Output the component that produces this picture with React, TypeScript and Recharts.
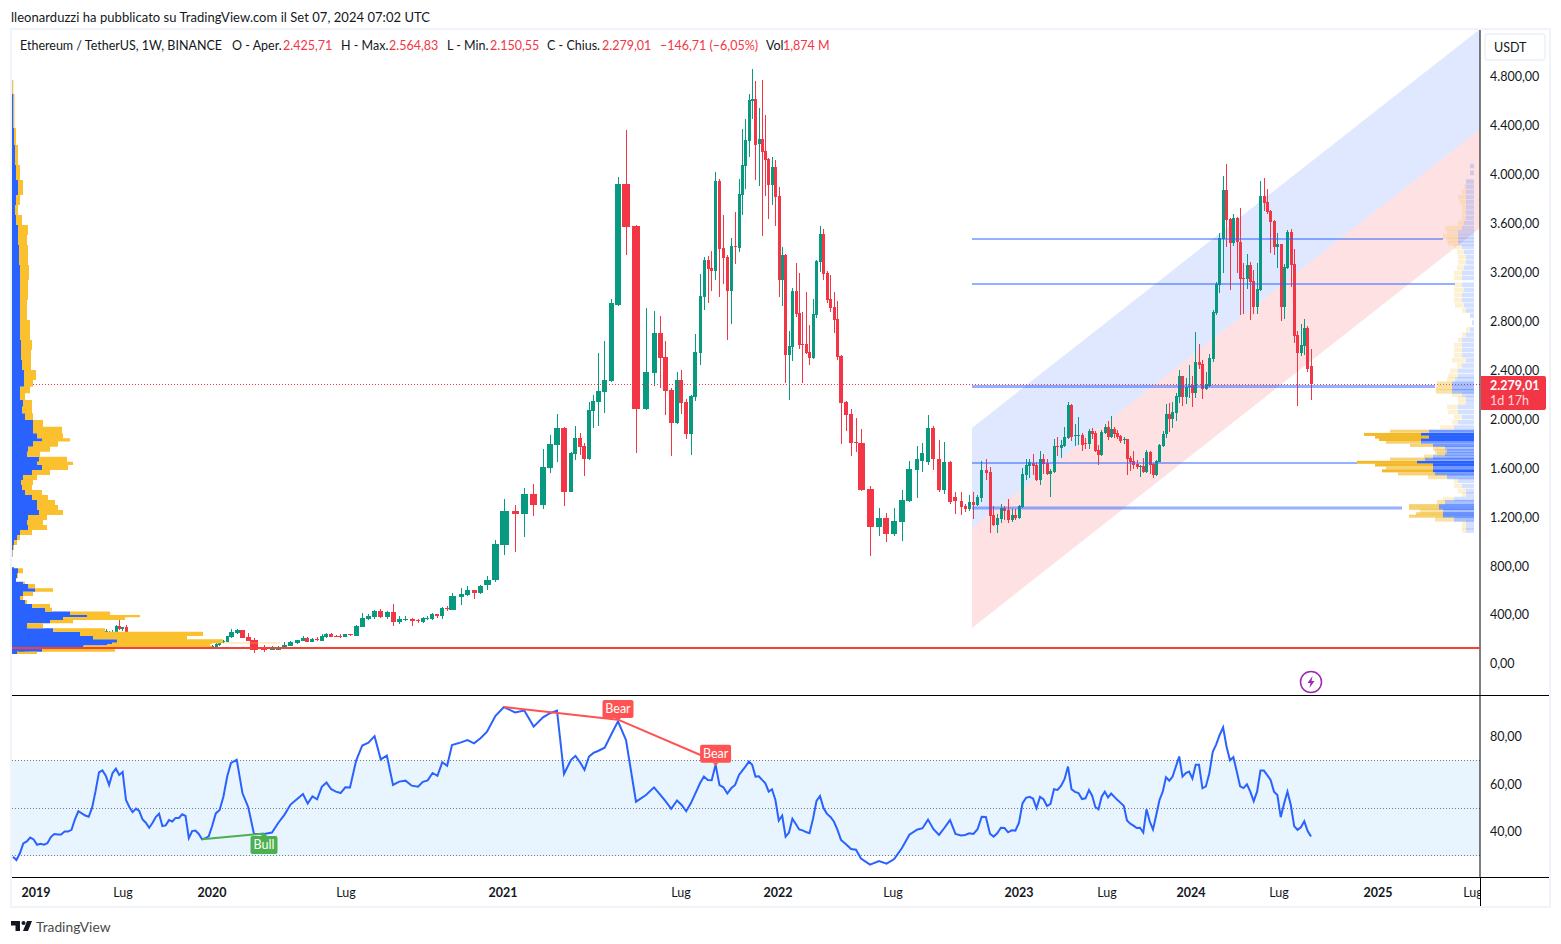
import { Area, Bar, ComposedChart, Line, ReferenceArea, ReferenceDot, ReferenceLine, XAxis, YAxis } from "recharts"

// weekly candles, Nov 2018 to Sep 2024
const opens = [
  140, 118, 100, 90, 94, 110, 135, 150, 137, 125,
  120, 108, 122, 155, 140, 145, 137, 135, 138, 143,
  142, 175, 165, 178, 162, 215,
  237, 250, 256, 237, 256, 302, 278, 294,
  237, 215, 212, 220, 215, 210, 185, 175, 180, 177,
  172, 180, 210, 168, 175, 180, 185, 183, 178, 150,
  147, 148, 132, 125, 127,
  125, 128, 147, 169, 171, 212, 245, 269, 212, 188,
  120, 106, 106, 122, 139, 163, 180, 204, 171, 196,
  180, 212, 237, 223, 223, 212, 237, 220, 294, 359,
  376, 425, 376, 417, 335, 351, 359, 351, 335, 357,
  359, 400, 384, 449, 433, 539, 556, 596, 572, 635,
  680, 965, 1243, 1219, 1382, 1292, 1595, 1783, 1922, 1399,
  1709, 1840, 1775, 1668, 2061, 2134, 2216, 2306, 2928, 3917,
  3574, 2077, 2372, 2699, 2502, 2233, 1963, 2314, 2134, 1873,
  2175, 2535, 2993, 3296, 3230, 3206, 3942, 3394, 3320, 3042,
  3410, 3394, 3827, 4064, 4269, 4598, 4612, 4244, 4285, 4187,
  4121, 3909, 4056, 3819, 3132, 3336, 2519, 2584, 3042, 2862,
  2609, 2609, 2543, 2494, 2846, 3279, 3508, 3189, 2977, 2911,
  2813, 2510, 2134, 2036, 1807, 1799, 1423, 1112, 1186, 1055,
  1153, 1325, 1578, 1650, 1644, 1922, 1668, 1415, 1640, 1360,
  1325, 1284, 1259, 1317, 1292, 1349, 1578, 1562, 1210, 1129,
  1178, 1268, 1251, 1170, 1210, 1186, 1276, 1537, 1611, 1636,
  1619, 1497, 1668, 1636, 1546, 1562, 1775, 1758, 1775, 1840,
  2110, 1856, 1856, 1864, 1796, 1791, 1897, 1881, 1742, 1701,
  1881, 1930, 1848, 1914, 1881, 1856, 1824, 1832, 1676, 1652,
  1627, 1603, 1611, 1562, 1725, 1627, 1537, 1644, 1775, 1873,
  2036, 1995, 2044, 2175, 2347, 2175, 2257, 2273, 2208, 2461,
  2445, 2241, 2265, 2486, 2862, 3091, 3467, 3868, 3631, 3435,
  3639, 3443, 3148, 3140, 3255, 3124, 2911, 3050, 3819, 3770,
  3696, 3614, 3405, 3426, 2911, 3230, 3524, 3263, 2682, 2535,
  2592, 2740, 2425.71,
]

const highs = [
  155, 125, 108, 105, 115, 160, 150, 160, 140, 128,
  125, 128, 168, 160, 150, 145, 140, 145, 148, 150,
  185, 185, 185, 190, 185, 270,
  262, 278, 262, 270, 311, 357, 297, 311,
  240, 235, 232, 228, 225, 215, 195, 195, 190, 190,
  185, 215, 225, 185, 190, 190, 195, 188, 180, 155,
  155, 150, 135, 135, 145,
  145, 160, 165, 188, 222, 278, 278, 272, 245, 204,
  147, 139, 139, 169, 180, 190, 220, 212, 204, 212,
  237, 245, 245, 228, 237, 240, 240, 310, 408, 400,
  433, 441, 425, 482, 384, 384, 367, 359, 372, 384,
  408, 404, 457, 466, 572, 613, 629, 600, 640, 712,
  1006, 1341, 1292, 1431, 1464, 1750, 1865, 2036, 1930, 1725,
  1938, 1881, 1799, 2134, 2192, 2532, 2633, 2977, 3974, 4359,
  3580, 2903, 2879, 2838, 2633, 2249, 2380, 2396, 2159, 2192,
  2690, 3181, 3320, 3328, 3369, 4015, 3958, 3664, 3336, 3475,
  3688, 3958, 4367, 4449, 4653, 4857, 4759, 4538, 4767, 4481,
  4130, 4138, 4113, 3892, 3402, 3345, 2715, 3067, 3271, 3189,
  2870, 3034, 2764, 2977, 3295, 3574, 3549, 3206, 3173, 3034,
  2960, 2519, 2140, 2077, 2004, 1914, 1448, 1268, 1227, 1268,
  1415, 1652, 1775, 1800, 2030, 1940, 1820, 1810, 1650, 1400,
  1396, 1300, 1374, 1401, 1374, 1652, 1668, 1603, 1284, 1219,
  1300, 1284, 1341, 1259, 1259, 1290, 1595, 1668, 1668, 1709,
  1644, 1734, 1709, 1668, 1587, 1832, 1848, 1824, 1933, 2134,
  2118, 1954, 2014, 1878, 1837, 1914, 1922, 1897, 1783, 1905,
  1954, 1979, 2020, 1933, 1905, 1864, 1851, 1835, 1693, 1734,
  1660, 1615, 1674, 1742, 1734, 1633, 1660, 1790, 1897, 2118,
  2123, 2132, 2205, 2396, 2350, 2331, 2437, 2347, 2707, 2609,
  2478, 2380, 2527, 2887, 3116, 3516, 3982, 4080, 3639, 3672,
  3645, 3721, 3268, 3345, 3279, 3214, 3268, 3942, 3966, 3876,
  3704, 3623, 3514, 3430, 3263, 3541, 3549, 3385, 2712, 2772,
  2813, 2756, 2564.83,
]

const lows = [
  110, 84, 82, 85, 88, 105, 128, 125, 120, 115,
  102, 104, 120, 130, 130, 125, 130, 125, 130, 133,
  140, 155, 160, 160, 155, 200,
  225, 240, 230, 230, 250, 270, 265, 232,
  190, 205, 195, 205, 205, 165, 170, 165, 170, 160,
  165, 175, 165, 160, 165, 165, 180, 175, 130, 135,
  140, 130, 118, 122, 125,
  120, 125, 140, 165, 168, 207, 240, 205, 178, 81,
  90, 104, 104, 120, 137, 155, 178, 168, 168, 180,
  178, 208, 210, 210, 204, 210, 220, 218, 290, 351,
  359, 367, 359, 302, 318, 343, 302, 327, 327, 351,
  355, 367, 359, 425, 430, 474, 547, 523, 565, 600,
  660, 883, 908, 1033, 1202, 1260, 1554, 1644, 1284, 1395,
  1660, 1701, 1529, 1660, 1922, 1938, 2044, 2298, 2920, 3336,
  1717, 2069, 2265, 2249, 2028, 1693, 1955, 2036, 1832, 1701,
  2143, 2437, 2887, 2944, 3042, 3132, 2993, 3099, 2641, 2772,
  3263, 3361, 3664, 3876, 4138, 4449, 3950, 3901, 3492, 3819,
  3631, 3745, 3574, 2993, 2919, 2290, 2151, 2470, 2829, 2568,
  2290, 2527, 2437, 2486, 2821, 3197, 3132, 2944, 2870, 2699,
  2478, 1791, 1897, 1693, 1725, 1410, 875, 1039, 990, 1039,
  998, 1320, 1349, 1560, 1619, 1578, 1400, 1380, 1300, 1220,
  1210, 1238, 1246, 1178, 1285, 1317, 1497, 1063, 1120, 1063,
  1142, 1170, 1142, 1156, 1170, 1175, 1270, 1497, 1513, 1537,
  1488, 1456, 1546, 1537, 1358, 1554, 1693, 1676, 1770, 1835,
  1815, 1775, 1783, 1734, 1753, 1750, 1832, 1726, 1619, 1693,
  1873, 1824, 1840, 1840, 1835, 1802, 1791, 1537, 1570, 1587,
  1587, 1521, 1555, 1554, 1546, 1513, 1529, 1640, 1769, 1840,
  1892, 1922, 1979, 2123, 2102, 2118, 2164, 2094, 2164, 2404,
  2159, 2233, 2260, 2461, 2849, 3028, 3189, 3402, 3050, 3410,
  3189, 2846, 2854, 3058, 2805, 2854, 2854, 3042, 3696, 3672,
  3353, 3336, 3233, 2797, 2813, 3222, 3077, 2617, 2102, 2510,
  2519, 2380, 2150.55,
]

const closes = [
  118, 100, 90, 94, 110, 135, 150, 137, 125, 120,
  108, 122, 155, 140, 145, 137, 135, 138, 143, 142,
  175, 165, 178, 162, 170, 250,
  256, 264, 237, 256, 302, 275, 294, 237,
  215, 212, 220, 215, 210, 185, 175, 180, 177, 172,
  180, 210, 168, 175, 180, 185, 183, 178, 150, 147,
  148, 132, 125, 127, 140,
  139, 158, 160, 183, 220, 253, 269, 207, 180, 109,
  106, 114, 122, 147, 171, 188, 204, 171, 196, 188,
  220, 237, 212, 215, 215, 237, 228, 302, 367, 384,
  425, 376, 417, 335, 359, 357, 343, 343, 367, 367,
  400, 384, 449, 444, 547, 564, 596, 572, 629, 680,
  973, 1243, 1219, 1382, 1292, 1603, 1791, 1922, 1399, 1717,
  1840, 1766, 1668, 2069, 2143, 2224, 2314, 2944, 3917, 3565,
  2077, 2380, 2699, 2494, 2224, 1963, 2314, 2126, 1873, 2184,
  2543, 3001, 3296, 3222, 3206, 3942, 3386, 3312, 3042, 3410,
  3402, 3835, 4072, 4277, 4604, 4612, 4236, 4285, 4179, 4113,
  3909, 4056, 3811, 3132, 3336, 2519, 2592, 3042, 2854, 2601,
  2601, 2535, 2494, 2854, 3287, 3508, 3181, 2969, 2903, 2805,
  2502, 2126, 2028, 1799, 1799, 1415, 1112, 1186, 1055, 1161,
  1333, 1587, 1668, 1720, 1922, 1668, 1415, 1640, 1320, 1325,
  1278, 1259, 1317, 1292, 1358, 1578, 1554, 1202, 1129, 1186,
  1268, 1243, 1170, 1210, 1186, 1284, 1546, 1619, 1644, 1611,
  1497, 1668, 1627, 1546, 1570, 1775, 1766, 1783, 1848, 2110,
  1848, 1864, 1864, 1783, 1788, 1897, 1873, 1734, 1701, 1889,
  1930, 1848, 1914, 1873, 1845, 1815, 1832, 1668, 1644, 1619,
  1603, 1611, 1562, 1725, 1619, 1537, 1652, 1783, 1873, 2036,
  1995, 2053, 2183, 2347, 2175, 2257, 2265, 2208, 2461, 2437,
  2241, 2282, 2494, 2870, 3099, 3475, 3868, 3623, 3435, 3639,
  3443, 3140, 3140, 3255, 3116, 2911, 3058, 3819, 3762, 3688,
  3606, 3405, 3426, 2911, 3238, 3524, 3255, 2674, 2535, 2600,
  2740, 2404, 2279.01,
]

const rsiValues = [
  29.7, 28.3, 31.1, 35.2, 36.1, 37.7, 36.9, 34.7, 35.1, 34.7,
  35.3, 37.9, 39.2, 39, 39, 40.2, 40.2, 40.9, 45.3, 48.7,
  47.8, 46.9, 46.4, 50.2, 57.1, 65, 65.8, 63.6, 59.7, 64.6,
  66.5, 63.9, 65.1, 53.4, 50.5, 48.3, 49.8, 48.8, 45.3, 43.9,
  41.8, 43.8, 46.3, 47.7, 42.5, 42.8, 45, 44.4, 45.9, 45.9,
  47.4, 46.7, 37.5, 40.4, 40.6, 39.2, 37, 37.4, 38.2, 42.3,
  47.8, 49.2, 54.8, 63.2, 68.9, 70.2, 56.2, 50.4, 39.2, 39.2,
  39.8, 43.8, 47.2, 51.5, 53.7, 55.9, 51.9, 54.9, 53.7, 58.9,
  60.7, 57.9, 56.9, 56.3, 58.7, 58.6, 69.9, 76.2, 77.4, 80.1,
  70.4, 72, 59.7, 61.1, 61.5, 59.4, 59, 61, 61.6, 64.7,
  63.5, 69.2, 67.7, 76.4, 77.5, 78.5, 77.1, 79.2, 82, 88.6,
  92.3, 90, 90.8, 84.1, 88, 89.7, 90.8, 64.3, 70.2, 71.8,
  69.2, 66, 71.6, 73.1, 73.9, 75.3, 80.9, 86.3, 78.5, 52.7,
  55.5, 58.7, 55.9, 52.9, 49.7, 53.2, 51.3, 48.7, 52, 56.2,
  60.4, 63.2, 61.8, 61.7, 68.1, 59.6, 58.7, 56.1, 58.3, 59.7,
  63.9, 65.7, 67.5, 69.5, 68.1, 63.2, 63.3, 61.8, 60.4, 56.9,
  57.9, 53.4, 44.8, 46.9, 38.1, 39.8, 45.6, 43.4, 41.1, 40.7,
  40, 39.5, 45.5, 53, 55.1, 50, 47.6, 46.3, 44.3, 40.9,
  36.7, 34.9, 32.9, 32.6, 28.9, 26.4, 27.9, 26.8, 28.7, 33.2,
  38.9, 41, 41.6, 45.2, 41.2, 38.8, 41.8, 45, 39.2, 38.6,
  38.8, 39.5, 39.2, 41.2, 46.4, 46.3, 39.3, 38.1, 39.5, 41.8,
  41.7, 39.9, 40.7, 40.6, 43.9, 52, 54.3, 54.7, 54, 50,
  54.7, 53.7, 50.9, 51.8, 57.9, 57.6, 59.3, 62.1, 67.4, 57.9,
  56.8, 56.3, 53.8, 54.1, 57.6, 55.2, 50.5, 49.5, 54.8, 56.9,
  54.5, 56.1, 54.7, 53.4, 52.2, 50.9, 44.8, 43.5, 42.7, 41.7,
  41.8, 39.8, 49.5, 44.4, 41.1, 47.1, 53.4, 56.9, 62.9, 61.5,
  63.2, 67.4, 71.6, 63.2, 64.7, 65.3, 62.4, 68.1, 68.1, 58.3,
  59.1, 64.6, 73.6, 76.7, 80.6, 83.8, 75.7, 70, 71.3, 65.3,
  59.1, 58.4, 60, 56.9, 52.9, 56.9, 65.7, 65.7, 63.8, 61.8,
  56.9, 55.5, 46.2, 51.9, 56.9, 51.3, 42.5, 40.9, 42, 44.5,
  40.4, 38.1,
]

// the time axis is not linear in weeks: [bar number, axis position]
const timeKnots = [
  [0, 1], [25, 87], [33, 114], [59, 200], [64, 219], [68, 242], [69, 252], [70, 260], [75, 291], [85, 338],
  [92, 381], [96, 406], [103, 440], [104, 449], [108, 475], [110, 492], [111, 503], [114, 531], [118, 559],
  [124, 586], [127, 606], [128, 614], [129, 624], [130, 634], [131, 642], [135, 665], [140, 688], [150, 727],
  [160, 760], [170, 794], [180, 829], [184, 849], [185, 858], [186, 867], [191, 905], [199, 949], [206, 978],
  [214, 1007], [224, 1042], [234, 1077], [246, 1115], [258, 1154], [268, 1187], [277, 1218], [290, 1262], [301, 1299],
]

const timeTicks = [24, 111, 200, 334, 491, 669, 766, 881, 1007, 1095, 1179, 1267, 1366, 1461]
const timeLabels = ["2019", "Lug", "2020", "Lug", "2021", "Lug", "2022", "Lug", "2023", "Lug", "2024", "Lug", "2025", "Lug"]

const priceTicks = [0, 400, 800, 1200, 1600, 2000, 2400, 2800, 3200, 3600, 4000, 4400, 4800]
const rsiTicks = [40, 60, 80]

// regression channel
const channelTimes = [960, 1468]
const channelTop = [1922, 5184]
const channelMid = [1104, 4367]
const channelBottom = [286, 3557]

// volume profile levels
const levelPrices = [3467, 3099, 2260, 1635, 1267]
const levelEnds = [1431, 1443, 1423, 1345, 1390]
const levelWeights = [2, 2, 3, 2, 3]

// left, whole-history volume profile
const leftPrices = [
  4767, 4653, 4375, 4236, 4072, 3950, 3827, 3745, 3663, 3582, 3500, 3418, 3254, 3132, 2968, 2805, 2641, 2559, 2478, 2396,
  2314, 2259, 2205, 2150, 2096, 2041, 1987, 1932, 1878, 1837, 1810, 1769, 1728, 1687, 1646, 1619, 1578, 1537, 1496, 1455,
  1414, 1374, 1333, 1292, 1251, 1210, 1169, 1128, 1087, 1047, 1006, 965, 924, 869, 801, 782, 774, 733, 692, 665,
  646, 610, 583, 548, 515, 482, 452, 420, 392, 373, 352, 324, 283, 256, 221, 193, 166, 161, 156, 142, 120, 92, 73, 63,
]
const leftBlue = [
  0, 0.3, 1.5, 2, 3, 4, 6, 4, 3, 4, 6, 6, 7, 8, 8, 8, 8, 9, 9, 10,
  12, 12, 8, 8, 11, 10, 13, 21, 21, 25, 30, 21, 16, 15, 27, 25, 30, 20, 11, 9,
  10, 13, 20, 25, 25, 27, 16, 15, 16, 8, 5, 2, 1, 0.5, 0, 0, 2, 6, 5, 4,
  11, 16, 23, 11, 8, 13, 20, 33, 58, 75, 51, 38, 15, 41, 68, 81, 105, 100, 100, 95, 71, 30, 5, 0,
]
const leftYellow = [
  0.7, 1, 1, 2, 3, 4, 5, 4, 3, 6, 10, 9, 9, 9, 8, 7, 10, 11, 10, 9,
  12, 9, 10, 5, 9, 10, 8, 10, 29, 26, 28, 25, 22, 13, 28, 36, 26, 18, 14, 12,
  10, 17, 16, 18, 21, 24, 19, 16, 19, 12, 3, 3, 1, 0.5, 0, 0, 0, 5, 1, 0,
  2, 7, 18, 10, 3, 2, 18, 7, 40, 53, 62, 23, 16, 52, 123, 94, 106, 168, 100, 103, 129, 73, 20, 0,
]

// right, visible-range volume profile
const rightPrices = [
  4062, 4006, 3936, 3894, 3851, 3809, 3767, 3725, 3683, 3640, 3598, 3556, 3520, 3486, 3458, 3430, 3401, 3359, 3317, 3275,
  3232, 3190, 3148, 3092, 3050, 3008, 2965, 2923, 2881, 2839, 2782, 2726, 2684, 2642, 2600, 2558, 2515, 2473, 2431, 2389,
  2346, 2318, 2282, 2248, 2220, 2192, 2164, 2130, 2093, 2051, 2009, 1967, 1925, 1894, 1868, 1846, 1826, 1804, 1778, 1753,
  1730, 1708, 1685, 1666, 1640, 1618, 1593, 1570, 1545, 1520, 1489, 1446, 1404, 1376, 1340, 1314, 1286, 1263, 1241, 1219,
  1199, 1173, 1145, 1109, 1081,
]
const rightBlue = [
  4, 4, 8, 8, 8, 8, 8, 8, 8, 8, 10, 12, 16, 16, 16, 16, 12, 10, 8, 8,
  10, 12, 12, 12, 10, 12, 12, 10, 8, 4, 2, 4, 8, 12, 12, 12, 12, 8, 12, 16,
  16, 19, 22, 22, 22, 12, 8, 8, 16, 16, 12, 16, 20, 45, 53, 45, 53, 53, 41, 29,
  27, 29, 41, 49, 57, 41, 41, 41, 39, 27, 16, 12, 8, 8, 20, 29, 35, 35, 31, 31,
  31, 20, 8, 8, 8,
]
const rightYellow = [
  0, 0, 0, 2, 4, 8, 6, 4, 4, 4, 6, 17, 11, 15, 11, 10, 8, 7, 8, 8,
  7, 8, 8, 8, 10, 8, 8, 9, 4, 0, 0, 4, 4, 4, 8, 8, 8, 14, 5, 8,
  10, 8, 15, 16, 16, 10, 8, 8, 11, 10, 8, 6, 14, 39, 57, 54, 42, 35, 23, 12,
  12, 8, 9, 35, 60, 58, 47, 51, 37, 19, 4, 8, 8, 4, 11, 8, 30, 30, 23, 27,
  34, 19, 4, 4, 4,
]

// divergences: bar number and RSI value of each end, then where the tag sits
const divergenceFrom = [[56, 37], [110, 92.3], [127, 87]]
const divergenceTo = [[69, 39.4], [127, 87], [144, 69.5]]
const divergenceTag = [[69, 34.6], [127, 91.5], [144, 72.7]]
const divergenceText = ["Bull", "Bear", "Bear"]

const GREEN = "#089981"
const RED = "#f23645"
const BLUE = "#2962ff"
const YELLOW = "#fbc02d"
const INK = "#131722"
const FONT = "Lato, 'Open Sans', sans-serif"

const PRICE_DOMAIN: [number, number] = [-262, 5176]
const RSI_DOMAIN: [number, number] = [21.2, 96.9]
const TIME_DOMAIN: [number, number] = [0, 1468]

function barTime(bar: number) {
  for (let k = 1; k < timeKnots.length; k++) {
    const [b0, t0] = timeKnots[k - 1]
    const [b1, t1] = timeKnots[k]
    if (bar <= b1) return t0 + ((bar - b0) * (t1 - t0)) / (b1 - b0)
  }
  return timeKnots[timeKnots.length - 1][1]
}

const bars = opens.map((open, i) => ({
  t: barTime(i),
  open,
  close: closes[i],
  high: highs[i],
  low: lows[i],
  range: [lows[i], highs[i]],
  rsi: rsiValues[i],
  gap: barTime(i + 1) - barTime(i) || 3.5,
}))

const channelUpper = channelTimes.map((t, i) => ({ t, band: [channelMid[i], channelTop[i]] }))
const channelLower = channelTimes.map((t, i) => ({ t, band: [channelBottom[i], channelMid[i]] }))

const leftRows = leftPrices.map((price, i) => ({ price, blue: leftBlue[i], yellow: leftYellow[i] }))
const rightRows = rightPrices.map((price, i) => ({ price, blue: rightBlue[i], yellow: rightYellow[i] }))

const formatNumber = (v: number) =>
  v.toFixed(2).replace(".", ",").replace(/\B(?=(\d{3})(?!\d))/g, ".")

function Candle(props: any) {
  const { x, y, width, height, payload: d } = props
  const cx = Math.round(x + width / 2)
  const k = height / (d.high - d.low)
  const top = y + (d.high - Math.max(d.open, d.close)) * k
  const bottom = y + (d.high - Math.min(d.open, d.close)) * k
  const w = Math.max(3, Math.round(d.gap * 0.8))
  const fill = d.close >= d.open ? GREEN : RED
  return (
    <g shapeRendering="crispEdges">
      <rect x={cx} y={y} width={1} height={height} fill={fill} />
      <rect x={cx - Math.floor(w / 2)} y={top} width={w} height={Math.max(1, bottom - top)} fill={fill} />
    </g>
  )
}

function TimeTick(props: any) {
  const { x, y, index } = props
  const label = timeLabels[index]
  return (
    <g>
      <defs>
        <clipPath id={`time-tick-${index}`}>
          <rect x={0} y={y - 5} width={1468} height={30} />
        </clipPath>
      </defs>
      <text
        x={x}
        y={y + 12}
        textAnchor="middle"
        fontSize={12.5}
        fontFamily={FONT}
        fontWeight={label === "Lug" ? 400 : 700}
        fill={INK}
        clipPath={`url(#time-tick-${index})`}
      >
        {label}
      </text>
    </g>
  )
}

function DivergenceTag(props: any) {
  const { cx, cy, text } = props
  const bull = text === "Bull"
  const fill = bull ? "#4caf50" : "#ff5252"
  const w = bull ? 27 : 31
  const tip = bull ? `M${cx - 3} ${cy - 9} L${cx} ${cy - 12} L${cx + 3} ${cy - 9} Z` : `M${cx - 3} ${cy + 9} L${cx} ${cy + 12} L${cx + 3} ${cy + 9} Z`
  return (
    <g>
      <path d={tip} fill={fill} />
      <rect x={cx - w / 2} y={cy - 9} width={w} height={18} rx={2} fill={fill} />
      <text x={cx} y={cy + 4} textAnchor="middle" fontSize={12.5} fontFamily={FONT} fill="#fff">
        {text}
      </text>
    </g>
  )
}

function PriceChart() {
  return (
    <div style={{ position: "absolute", left: 12, top: 30 }}>
      <ComposedChart width={1536} height={665} data={bars} margin={{ top: 0, right: 0, bottom: 0, left: 0 }}>
        <XAxis type="number" dataKey="t" domain={TIME_DOMAIN} hide allowDataOverflow />
        <YAxis
          orientation="right"
          type="number"
          width={68}
          domain={PRICE_DOMAIN}
          ticks={priceTicks}
          interval={0}
          allowDataOverflow
          tickFormatter={formatNumber}
          tick={{ fontSize: 12.5, fontFamily: FONT, fill: INK, dy: 1 }}
          tickSize={0}
          tickMargin={10}
          axisLine={{ stroke: "#000" }}
        />
        <Area data={channelUpper} dataKey="band" type="linear" stroke="none" fill={BLUE} fillOpacity={0.15} isAnimationActive={false} />
        <Area data={channelLower} dataKey="band" type="linear" stroke="none" fill={RED} fillOpacity={0.15} isAnimationActive={false} />
        {levelPrices.map((price, i) => (
          <ReferenceLine
            key={price}
            segment={[{ x: channelTimes[0], y: price }, { x: levelEnds[i], y: price }]}
            stroke={BLUE}
            strokeOpacity={0.5}
            strokeWidth={levelWeights[i]}
          />
        ))}
        <ReferenceLine y={closes[closes.length - 1]} stroke={RED} strokeDasharray="1 2" shapeRendering="crispEdges" />
        <Bar dataKey="range" barSize={1} shape={Candle} isAnimationActive={false} />
      </ComposedChart>
    </div>
  )
}

function LeftProfile() {
  return (
    <div style={{ position: "absolute", left: 12, top: 30 }}>
      <ComposedChart layout="vertical" width={1468} height={665} data={leftRows} margin={{ top: 0, right: 0, bottom: 0, left: 0 }}>
        <XAxis type="number" domain={TIME_DOMAIN} hide allowDataOverflow />
        <YAxis type="number" dataKey="price" domain={PRICE_DOMAIN} reversed hide allowDataOverflow />
        <Area dataKey="blue" stackId="vp" type="stepAfter" stroke="none" fill={BLUE} fillOpacity={1} isAnimationActive={false} />
        <Area dataKey="yellow" stackId="vp" type="stepAfter" stroke="none" fill={YELLOW} fillOpacity={1} isAnimationActive={false} />
        <ReferenceLine y={123} stroke="#f44336" strokeWidth={2} />
      </ComposedChart>
    </div>
  )
}

// strength of a row follows its total volume
const rowOpacity = (row: { blue: number; yellow: number }) => {
  const total = row.blue + row.yellow
  if (total >= 90) return 1
  if (total >= 55) return 0.65
  if (total >= 35) return 0.4
  return 0.2
}

function ProfileRow(props: any) {
  const { x, y, width, height, payload, fill } = props
  const strong = payload.blue + payload.yellow >= 55
  const thick = strong ? 3 : 4.5
  // the axis is reversed, so the bar width comes in negative
  return (
    <rect
      x={Math.min(x, x + width)}
      y={y + (height - thick) / 2}
      width={Math.abs(width)}
      height={thick}
      fill={fill}
      fillOpacity={rowOpacity(payload)}
    />
  )
}

function RightProfile() {
  return (
    <div style={{ position: "absolute", left: 1354, top: 30 }}>
      <ComposedChart layout="vertical" width={120} height={665} data={rightRows} margin={{ top: 0, right: 0, bottom: 0, left: 0 }}>
        <XAxis type="number" domain={[0, 120]} reversed hide allowDataOverflow />
        <YAxis type="number" dataKey="price" domain={PRICE_DOMAIN} reversed hide allowDataOverflow />
        <Bar dataKey="blue" stackId="vp" barSize={3} fill={BLUE} shape={ProfileRow} isAnimationActive={false} />
        <Bar dataKey="yellow" stackId="vp" barSize={3} fill="#f3b928" shape={ProfileRow} isAnimationActive={false} />
      </ComposedChart>
    </div>
  )
}

function RsiChart() {
  return (
    <div style={{ position: "absolute", left: 12, top: 696 }}>
      <ComposedChart width={1536} height={211} data={bars} margin={{ top: 0, right: 0, bottom: 0, left: 0 }}>
        <XAxis
          type="number"
          dataKey="t"
          domain={TIME_DOMAIN}
          ticks={timeTicks}
          interval={0}
          height={30}
          allowDataOverflow
          tick={<TimeTick />}
          tickLine={false}
          axisLine={false}
        />
        <YAxis
          orientation="right"
          type="number"
          width={68}
          domain={RSI_DOMAIN}
          ticks={rsiTicks}
          interval={0}
          allowDataOverflow
          tickFormatter={formatNumber}
          tick={{ fontSize: 12.5, fontFamily: FONT, fill: INK }}
          tickSize={0}
          tickMargin={10}
          axisLine={{ stroke: "#000" }}
        />
        <ReferenceArea y1={30} y2={70} fill="#2196f3" fillOpacity={0.1} stroke="none" />
        {[70, 50, 30].map((level) => (
          <ReferenceLine key={level} y={level} stroke="#787b86" strokeDasharray="1 2" shapeRendering="crispEdges" />
        ))}
        <Line dataKey="rsi" type="linear" stroke={BLUE} strokeWidth={2} dot={false} isAnimationActive={false} />
        {divergenceText.map((text, i) => (
          <ReferenceLine
            key={`line-${i}`}
            segment={[
              { x: barTime(divergenceFrom[i][0]), y: divergenceFrom[i][1] },
              { x: barTime(divergenceTo[i][0]), y: divergenceTo[i][1] },
            ]}
            stroke={text === "Bull" ? "#4caf50" : "#ff5252"}
            strokeWidth={2}
          />
        ))}
        {divergenceText.map((text, i) => (
          <ReferenceDot
            key={`tag-${i}`}
            x={barTime(divergenceTag[i][0])}
            y={divergenceTag[i][1]}
            shape={(p: any) => <DivergenceTag {...p} text={text} />}
          />
        ))}
      </ComposedChart>
    </div>
  )
}

const legendParts: [string, number, string][] = [
  ["Ethereum / TetherUS, 1W, BINANCE", 20, INK],
  ["O - Aper.", 232, INK],
  ["2.425,71", 283, RED],
  ["H - Max.", 341, INK],
  ["2.564,83", 389, RED],
  ["L - Min.", 447, INK],
  ["2.150,55", 490, RED],
  ["C - Chius.", 547, INK],
  ["2.279,01", 602, RED],
  ["\u2212146,71 (\u22126,05%)", 660, RED],
  ["Vol", 766, INK],
  ["1,874 M", 783, RED],
]

const box = (left: number, top: number, width: number, height: number, background: string) => (
  <div style={{ position: "absolute", left, top, width, height, background }} />
)

export default function App() {
  return (
    <div style={{ position: "absolute", left: 0, top: 0, width: 1561, height: 944, background: "#fff", fontFamily: FONT, color: INK, overflow: "hidden" }}>
      <div style={{ position: "absolute", left: 11, top: 9, fontSize: 13, letterSpacing: 0.04, whiteSpace: "nowrap" }}>
        lleonarduzzi ha pubblicato su TradingView.com il Set 07, 2024 07:02 UTC
      </div>
      <div style={{ position: "absolute", left: 10, top: 28, width: 1541, height: 880, border: "2px solid #f0f3fa", boxSizing: "border-box" }} />

      <PriceChart />
      <LeftProfile />
      <RightProfile />
      <RsiChart />

      {box(12, 695, 1537, 1, "#000")}
      {box(12, 877, 1537, 1, "#000")}
      {box(1480, 877, 1, 29, "#000")}

      {legendParts.map(([text, left, color]) => (
        <div key={text} style={{ position: "absolute", left, top: 38, fontSize: 12.5, color, whiteSpace: "nowrap" }}>
          {text}
        </div>
      ))}

      <div style={{ position: "absolute", left: 1484, top: 33, width: 62, height: 28, boxSizing: "border-box", border: "2px solid #f0f3fa", borderRadius: 4, fontSize: 12.5, paddingLeft: 8, lineHeight: "25px" }}>
        USDT
      </div>
      <div style={{ position: "absolute", left: 1481, top: 376, width: 65, height: 34, background: RED, borderRadius: "0 2px 2px 0", color: "#fff", paddingLeft: 9, boxSizing: "border-box", fontSize: 12.5, lineHeight: "15px", paddingTop: 2 }}>
        <div style={{ fontWeight: 700 }}>2.279,01</div>
        <div style={{ opacity: 0.8 }}>1d 17h</div>
      </div>

      <svg style={{ position: "absolute", left: 1299, top: 670 }} width={24} height={24}>
        <circle cx={12} cy={12} r={10.5} fill="#fff" stroke="#9c27b0" strokeWidth={1.5} />
        <path d="M13.5 6 L8.5 13 H11.5 L10.5 18 L15.5 11 H12.5 Z" fill="#9c27b0" />
      </svg>

      <svg style={{ position: "absolute", left: 11, top: 920 }} width={22} height={12}>
        <path d="M0 1 H9 V11 H4.5 V5.5 H0 Z" fill="#131722" />
        <circle cx={12.5} cy={3} r={2} fill="#131722" />
        <path d="M16 1 H21 L17 11 H12 Z" fill="#131722" />
      </svg>
      <div style={{ position: "absolute", left: 36, top: 918, fontSize: 13.8, color: "#4a4a4a", whiteSpace: "nowrap" }}>TradingView</div>
    </div>
  )
}
